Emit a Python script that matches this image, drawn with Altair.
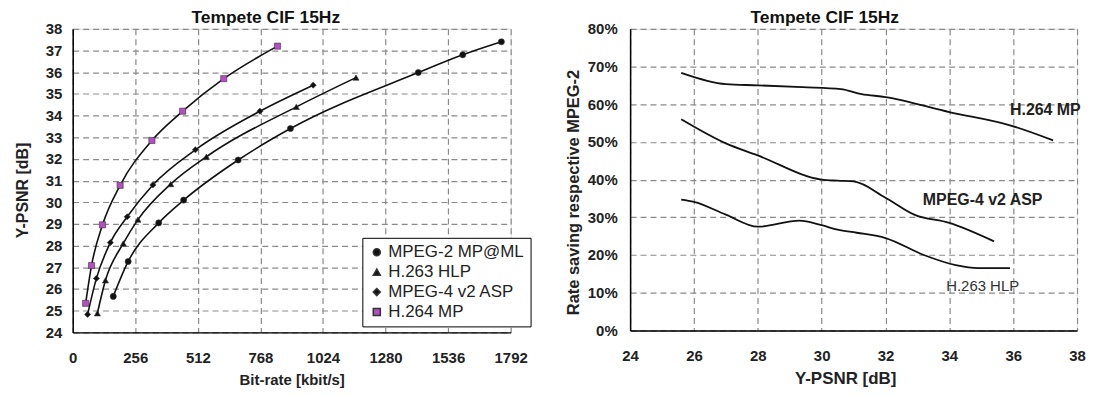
import altair as alt
import pandas as pd

# ---------------- Left chart data (Bit-rate vs Y-PSNR) ----------------
series_names = ["MPEG-2 MP@ML", "H.263 HLP", "MPEG-4 v2 ASP", "H.264 MP"]

mpeg2_rate = [166, 227, 352, 454, 677, 891, 1414, 1596, 1754]
mpeg2_psnr = [25.66, 27.27, 29.05, 30.1, 31.95, 33.4, 35.98, 36.8, 37.4]

h263_rate = [101, 134, 207, 267, 401, 547, 915, 1159]
h263_psnr = [24.88, 26.4, 28.1, 29.2, 30.84, 32.1, 34.4, 35.75]

mpeg4_rate = [61, 97, 154, 223, 328, 502, 766, 984]
mpeg4_psnr = [24.83, 26.49, 28.14, 29.33, 30.8, 32.42, 34.2, 35.4]

h264_rate = [53, 77, 122, 194, 324, 450, 618, 838]
h264_psnr = [25.34, 27.08, 28.96, 30.78, 32.85, 34.2, 35.7, 37.2]

x_ticks_left = [0, 256, 512, 768, 1024, 1280, 1536, 1792]
y_ticks_left = [24, 25, 26, 27, 28, 29, 30, 31, 32, 33, 34, 35, 36, 37, 38]

# ---------------- Right chart data (Y-PSNR vs rate saving) ----------------
h264_sav_psnr = [25.6, 27.0, 28.0, 29.4, 30.6, 31.25, 32.0, 34.0, 35.9, 37.25]
h264_sav = [0.683, 0.653, 0.650, 0.645, 0.640, 0.627, 0.619, 0.579, 0.544, 0.504]

mpeg4_sav_psnr = [25.6, 27.0, 28.0, 30.0, 30.5, 31.0, 32.0, 32.9, 34.0, 35.4]
mpeg4_sav = [0.56, 0.496, 0.464, 0.40, 0.397, 0.395, 0.352, 0.307, 0.285, 0.236]

h263_sav_psnr = [25.6, 26.0, 27.0, 28.0, 29.3, 30.0, 30.5, 31.1, 32.0, 33.2, 34.2, 34.9, 35.9]
h263_sav = [0.347, 0.341, 0.307, 0.275, 0.291, 0.279, 0.267, 0.259, 0.245, 0.20, 0.173, 0.165, 0.165]

x_ticks_right = [24, 26, 28, 30, 32, 34, 36, 38]
y_ticks_right = [0.0, 0.1, 0.2, 0.3, 0.4, 0.5, 0.6, 0.7, 0.8]

# annotation labels (data coords)
bold_labels = ["H.264 MP", "MPEG-4 v2 ASP"]
bold_label_x = [35.9, 33.17]
bold_label_y = [0.584, 0.347]
plain_labels = ["H.263 HLP"]
plain_label_x = [33.9]
plain_label_y = [0.117]

# ---------------- Build tables ----------------
rows = []
for name, xs, ys in zip(series_names,
                        [mpeg2_rate, h263_rate, mpeg4_rate, h264_rate],
                        [mpeg2_psnr, h263_psnr, mpeg4_psnr, h264_psnr]):
    for i, (a, b) in enumerate(zip(xs, ys)):
        rows.append({"codec": name, "rate": a, "psnr": b, "order": i})
left_df = pd.DataFrame(rows)

rows = []
for name, xs, ys in zip(["H.264 MP", "MPEG-4 v2 ASP", "H.263 HLP"],
                        [h264_sav_psnr, mpeg4_sav_psnr, h263_sav_psnr],
                        [h264_sav, mpeg4_sav, h263_sav]):
    for i, (a, b) in enumerate(zip(xs, ys)):
        rows.append({"codec": name, "psnr": a, "saving": b, "order": i})
right_df = pd.DataFrame(rows)

bold_df = pd.DataFrame({"label": bold_labels, "psnr": bold_label_x, "saving": bold_label_y})
plain_df = pd.DataFrame({"label": plain_labels, "psnr": plain_label_x, "saving": plain_label_y})

TICK_FONT = "Liberation Sans Narrow, Liberation Sans, Arial"
TEXT_FONT = "Liberation Sans, Arial"
GRID = dict(grid=True, gridColor="#8a8a8a", gridDash=[6, 4], gridWidth=1.2,
            domainColor="black", domainWidth=1.5, ticks=False,
            labelOverlap=False, labelFlush=False,
            labelFont=TICK_FONT, labelFontSize=15, labelFontWeight="bold", labelColor="#222",
            titleFont=TEXT_FONT, titleFontWeight="bold", titleColor="#222")

LEG = dict(title=None, orient="none", legendX=291, legendY=210,
           strokeColor="black", fillColor="white", padding=6,
           labelFont=TEXT_FONT, labelFontSize=17, labelColor="#222",
           symbolSize=50, rowPadding=2, labelOffset=3)

# ---------------- Left chart ----------------
xl = alt.X("rate:Q", scale=alt.Scale(domain=[0, 1792], nice=False),
           axis=alt.Axis(values=x_ticks_left, format="d", title="Bit-rate [kbit/s]", labelPadding=18,
                         titlePadding=7, titleFontSize=15, **GRID))
yl = alt.Y("psnr:Q", scale=alt.Scale(domain=[24, 38], nice=False, zero=False),
           axis=alt.Axis(values=y_ticks_left, format="d", title="Y-PSNR [dB]", labelPadding=11,
                         titlePadding=15, titleFontSize=16, titleY=162, **GRID))

lines_left = alt.Chart(left_df).mark_line(color="#111", strokeWidth=1.6, interpolate="monotone").encode(
    x=xl, y=yl, detail="codec:N", order="order:Q")

points_left = alt.Chart(left_df).mark_point(filled=True, size=38, opacity=1, stroke="#333",
                                            strokeWidth=0.6).encode(
    x=xl, y=yl,
    shape=alt.Shape("codec:N", scale=alt.Scale(domain=series_names,
                                              range=["circle", "triangle-up", "diamond", "square"]),
                    legend=alt.Legend(**LEG)),
    fill=alt.Fill("codec:N", scale=alt.Scale(domain=series_names,
                                            range=["#111", "#111", "#111", "#b84cc4"]),
                  legend=alt.Legend(**LEG)),
)

left = alt.layer(lines_left, points_left).properties(
    width=440, height=305,
    title=alt.TitleParams("Tempete CIF 15Hz", font=TEXT_FONT, fontSize=17.5, fontWeight="bold",
                          color="#111", dx=-26, offset=-5))

# ---------------- Right chart ----------------
xr = alt.X("psnr:Q", scale=alt.Scale(domain=[24, 38], nice=False, zero=False),
           axis=alt.Axis(values=x_ticks_right, format="d", title="Y-PSNR [dB]", labelPadding=18,
                         titlePadding=7, titleFontSize=17, titleX=216, **GRID))
yr = alt.Y("saving:Q", scale=alt.Scale(domain=[0, 0.8], nice=False),
           axis=alt.Axis(values=y_ticks_right, format=".0%", title="Rate saving respective MPEG-2",
                         labelPadding=13, titlePadding=6, titleFontSize=16.5, titleY=164, **GRID))

lines_right = alt.Chart(right_df).mark_line(color="#111", strokeWidth=1.8, interpolate="monotone").encode(
    x=xr, y=yr, detail="codec:N", order="order:Q")

text_bold = alt.Chart(bold_df).mark_text(align="left", baseline="middle", font=TEXT_FONT,
                                         fontSize=16, fontWeight="bold", color="#222").encode(
    x=xr, y=yr, text="label:N")
text_plain = alt.Chart(plain_df).mark_text(align="left", baseline="middle", font=TEXT_FONT,
                                           fontSize=15, color="#333").encode(
    x=xr, y=yr, text="label:N")

right = alt.layer(lines_right, text_bold, text_plain).properties(
    width=449, height=303,
    title=alt.TitleParams("Tempete CIF 15Hz", font=TEXT_FONT, fontSize=17.5, fontWeight="bold",
                          color="#111", dx=-29, offset=-5))

chart = alt.hconcat(left, right, spacing=36).properties(
    padding={"left": 5, "top": 0, "right": 0, "bottom": 0}
).configure_view(stroke="black", strokeWidth=1.5).configure(background="white")

chart.save("out.html", embed_options={"renderer": "svg", "actions": False})
